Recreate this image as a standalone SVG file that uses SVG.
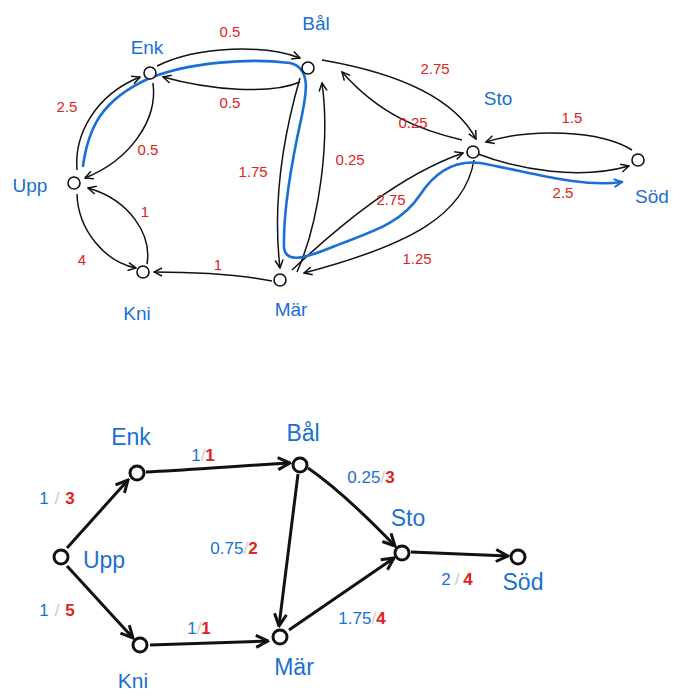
<svg xmlns="http://www.w3.org/2000/svg" width="673" height="698" viewBox="0 0 673 698">
<style>
.bg{fill:#fff}
.n1{fill:#fff;stroke:#111;stroke-width:1.6}
.n2{fill:#fff;stroke:#111;stroke-width:3}
.e1{fill:none;stroke:#111;stroke-width:1.5;marker-end:url(#a1)}
.e2{fill:none;stroke:#111;stroke-width:3;marker-end:url(#a2)}
.route{fill:none;stroke:#1a6fd6;stroke-width:2.6;stroke-linecap:round;marker-end:url(#ab)}
.nl{font-family:"Liberation Sans",Arial,sans-serif;fill:#1a6fd6;text-anchor:middle}
.t1{font-size:19px}
.t2{font-size:23px}
.w{font-family:"Liberation Sans",Arial,sans-serif;fill:#e02222;font-size:15px;text-anchor:middle}
.w2{font-family:"Liberation Sans",Arial,sans-serif;font-size:17px;text-anchor:middle}
.b{fill:#1a6fd6}
.r{fill:#e02222;font-weight:bold}
.s{fill:#cccccc}
</style>
<defs>
<marker id="a1" viewBox="0 0 10 10" refX="9" refY="5" markerWidth="10" markerHeight="10" markerUnits="userSpaceOnUse" orient="auto"><path d="M1,1 L9,5 L1,9" fill="none" stroke="#111" stroke-width="1.5"/></marker>
<marker id="a2" viewBox="0 0 10 10" refX="9" refY="5" markerWidth="15" markerHeight="15" markerUnits="userSpaceOnUse" orient="auto"><path d="M1,1 L9,5 L1,9" fill="none" stroke="#111" stroke-width="2"/></marker>
<marker id="ab" viewBox="0 0 10 10" refX="9" refY="5" markerWidth="10" markerHeight="10" markerUnits="userSpaceOnUse" orient="auto"><path d="M1,1 L9,5 L1,9" fill="none" stroke="#1a6fd6" stroke-width="2"/></marker>
</defs>
<rect class="bg" x="0" y="0" width="673" height="698"/>

<g id="connectors">
<path class="e1" d="M77,170 C74,135 95,95 140,77"/>
<path class="e1" d="M153,83 C158,120 130,160 85,178"/>
<path class="e1" d="M157,66 C200,45 265,45 300,58"/>
<path class="e1" d="M300,82 C270,95 210,90 163,77"/>
<path class="e1" d="M77,194 C78,230 105,262 136,268"/>
<path class="e1" d="M147,264 C152,235 130,200 88,188"/>
<path class="e1" d="M272,281 C230,273 190,272 154,272"/>
<path class="e1" d="M300,78 C285,130 272,200 280,268"/>
<path class="e1" d="M297,272 C320,220 330,140 322,83"/>
<path class="e1" d="M322,60 C380,70 450,90 476,139"/>
<path class="e1" d="M462,140 C420,130 380,115 342,72"/>
<path class="e1" d="M292,270 C340,225 400,175 463,153"/>
<path class="e1" d="M474,160 C465,215 410,245 304,273"/>
<path class="e1" d="M632,150 C600,130 530,128 486,142"/>
<path class="e1" d="M478,154 C520,170 580,180 629,166"/>
<path id="route" class="route" d="M83,166 C88,130 100,100 150,78 C190,62 250,58 290,63 C312,68 306,95 302,115 C292,160 283,210 284,248 C286,262 300,260 330,248 C370,232 400,225 420,195 C435,172 455,160 480,163 C530,172 580,188 622,182"/>

<path class="e2" d="M67,548 L128,480"/>
<path class="e2" d="M67,566 L133,638"/>
<path class="e2" d="M146,472 C190,470 220,467 290,463"/>
<path class="e2" d="M150,645 L268,641"/>
<path class="e2" d="M298,474 L279,626"/>
<path class="e2" d="M308,468 C340,490 370,520 395,546"/>
<path class="e2" d="M289,630 L394,558"/>
<path class="e2" d="M411,552 L508,556"/>
</g>

<g id="edge-labels">
<text class="w" x="230" y="37">0.5</text>
<text class="w" x="230" y="108">0.5</text>
<text class="w" x="67" y="112">2.5</text>
<text class="w" x="148" y="155">0.5</text>
<text class="w" x="253" y="177">1.75</text>
<text class="w" x="145" y="217">1</text>
<text class="w" x="82" y="265">4</text>
<text class="w" x="218" y="270">1</text>
<text class="w" x="350" y="165">0.25</text>
<text class="w" x="435" y="74">2.75</text>
<text class="w" x="413" y="128">0.25</text>
<text class="w" x="572" y="123">1.5</text>
<text class="w" x="391" y="205">2.75</text>
<text class="w" x="563" y="198">2.5</text>
<text class="w" x="417" y="264">1.25</text>

<text class="w2" x="57" y="504"><tspan class="b">1</tspan><tspan class="s" dx="6">/</tspan><tspan class="r" dx="6">3</tspan></text>
<text class="w2" x="57" y="616"><tspan class="b">1</tspan><tspan class="s" dx="6">/</tspan><tspan class="r" dx="6">5</tspan></text>
<text class="w2" x="203" y="461"><tspan class="b">1</tspan><tspan class="s">/</tspan><tspan class="r">1</tspan></text>
<text class="w2" x="199" y="634"><tspan class="b">1</tspan><tspan class="s">/</tspan><tspan class="r">1</tspan></text>
<text class="w2" x="234" y="554"><tspan class="b">0.75</tspan><tspan class="s">/</tspan><tspan class="r">2</tspan></text>
<text class="w2" x="371" y="483"><tspan class="b">0.25</tspan><tspan class="s">/</tspan><tspan class="r">3</tspan></text>
<text class="w2" x="362" y="624"><tspan class="b">1.75</tspan><tspan class="s">/</tspan><tspan class="r">4</tspan></text>
<text class="w2" x="457" y="585"><tspan class="b">2</tspan><tspan class="s" dx="4">/</tspan><tspan class="r" dx="4">4</tspan></text>
</g>

<g id="top-upp"><circle class="n1" cx="74" cy="183" r="6"/><text class="nl t1" x="30" y="192">Upp</text></g>
<g id="top-enk"><circle class="n1" cx="150" cy="73" r="6"/><text class="nl t1" x="147" y="54">Enk</text></g>
<g id="top-bal"><circle class="n1" cx="308" cy="68" r="6"/><text class="nl t1" x="316" y="30">Bål</text></g>
<g id="top-kni"><circle class="n1" cx="143" cy="272" r="6"/><text class="nl t1" x="137" y="320">Kni</text></g>
<g id="top-mar"><circle class="n1" cx="280" cy="280" r="6"/><text class="nl t1" x="291" y="316">Mär</text></g>
<g id="top-sto"><circle class="n1" cx="473" cy="152" r="6"/><text class="nl t1" x="498" y="105">Sto</text></g>
<g id="top-sod"><circle class="n1" cx="638" cy="160" r="6"/><text class="nl t1" x="652" y="203">Söd</text></g>

<g id="bot-upp"><circle class="n2" cx="61" cy="557" r="7"/><text class="nl t2" x="104" y="568">Upp</text></g>
<g id="bot-enk"><circle class="n2" cx="137" cy="473" r="7"/><text class="nl t2" x="131" y="445">Enk</text></g>
<g id="bot-bal"><circle class="n2" cx="300" cy="465" r="7"/><text class="nl t2" x="303" y="441">Bål</text></g>
<g id="bot-kni"><circle class="n2" cx="140" cy="645" r="7"/><text class="nl" style="font-size:21px" x="133" y="688">Kni</text></g>
<g id="bot-mar"><circle class="n2" cx="280" cy="637" r="7"/><text class="nl t2" x="294" y="675">Mär</text></g>
<g id="bot-sto"><circle class="n2" cx="402" cy="553" r="7"/><text class="nl t2" x="408" y="526">Sto</text></g>
<g id="bot-sod"><circle class="n2" cx="518" cy="557" r="7"/><text class="nl t2" x="523" y="590">Söd</text></g>
</svg>
